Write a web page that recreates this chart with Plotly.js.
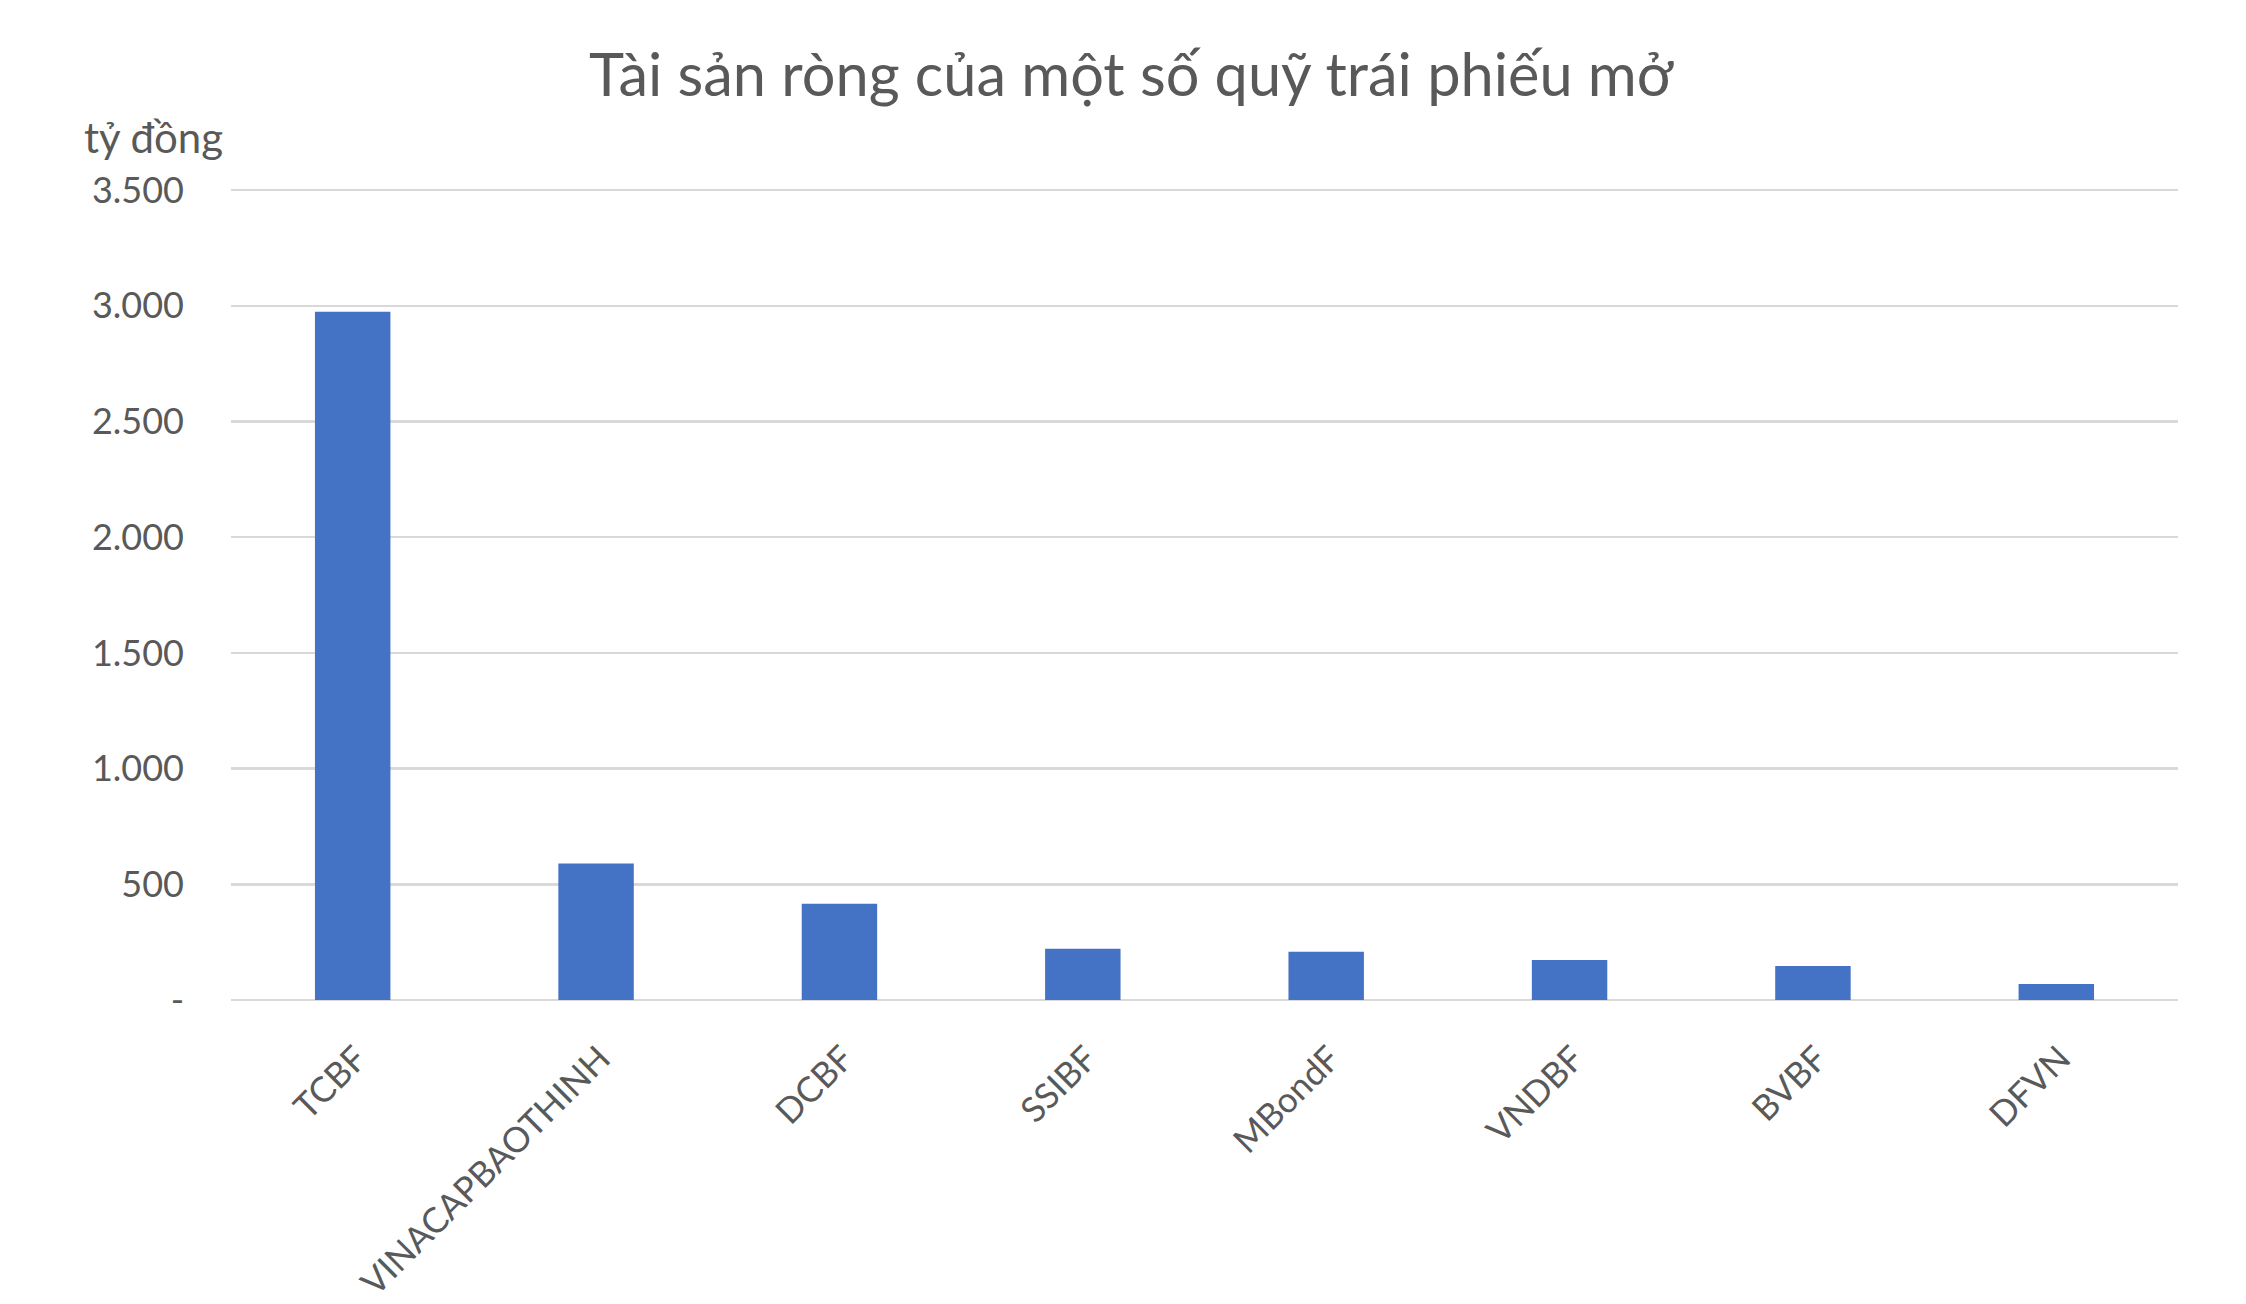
<!DOCTYPE html>
<html>
<head>
<meta charset="utf-8">
<script src="https://cdn.plot.ly/plotly-3.0.1.min.js"></script>
<style>html,body{margin:0;padding:0;background:#fff;}#chart{width:2246px;height:1304px;}</style>
</head>
<body>
<div id="chart"></div>
<script>
const categories = ["TCBF", "VINACAPBAOTHINH", "DCBF", "SSIBF", "MBondF", "VNDBF", "BVBF", "DFVN"];
const values = [2974, 590, 416, 221, 208, 173, 147, 69];
const yTickVals = [0, 500, 1000, 1500, 2000, 2500, 3000, 3500];
const yTickText = ["-", "500", "1.000", "1.500", "2.000", "2.500", "3.000", "3.500"];
const chartTitle = "Tài sản ròng của một số quỹ trái phiếu mở";
const unitLabel = "tỷ đồng";

const FONT = "Lato, 'Open Sans', 'Noto Sans', sans-serif";
const GREY = "#595959";

const trace = {
  type: "bar",
  x: categories,
  y: values,
  marker: {color: "#4472c4", line: {width: 0}},
  hoverinfo: "x+y"
};

const layout = {
  width: 2246,
  height: 1304,
  paper_bgcolor: "#ffffff",
  plot_bgcolor: "#ffffff",
  margin: {l: 231, r: 68, t: 189, b: 304, pad: 0},
  bargap: 0.69,
  showlegend: false,
  font: {family: FONT, color: GREY, size: 36},
  title: {
    text: chartTitle,
    x: 0.5036, xanchor: "center", xref: "container",
    y: 0.9425, yanchor: "middle", yref: "container",
    font: {family: FONT, size: 59.5, color: GREY}
  },
  xaxis: {
    type: "category",
    tickangle: -45,
    showgrid: false,
    showline: false,
    zeroline: false,
    ticks: "",
    ticklabelstandoff: 30,
    ticklabelshift: 4,
    automargin: false,
    tickfont: {family: FONT, size: 35, color: GREY}
  },
  yaxis: {
    range: [0, 3505],
    tickmode: "array",
    tickvals: yTickVals,
    ticktext: yTickText,
    showgrid: true,
    gridcolor: "#d9d9d9",
    gridwidth: 2.5,
    zeroline: true,
    zerolinecolor: "#d9d9d9",
    zerolinewidth: 2.5,
    showline: false,
    ticks: "",
    ticklabelstandoff: 46,
    automargin: false,
    tickfont: {family: FONT, size: 36, color: GREY}
  },
  annotations: [{
    text: unitLabel,
    xref: "paper", yref: "paper",
    x: -0.0765, xanchor: "left",
    y: 1.064, yanchor: "middle",
    showarrow: false,
    font: {family: FONT, size: 42, color: GREY}
  }]
};

Plotly.newPlot("chart", [trace], layout, {displayModeBar: false, staticPlot: true});
</script>
</body>
</html>
